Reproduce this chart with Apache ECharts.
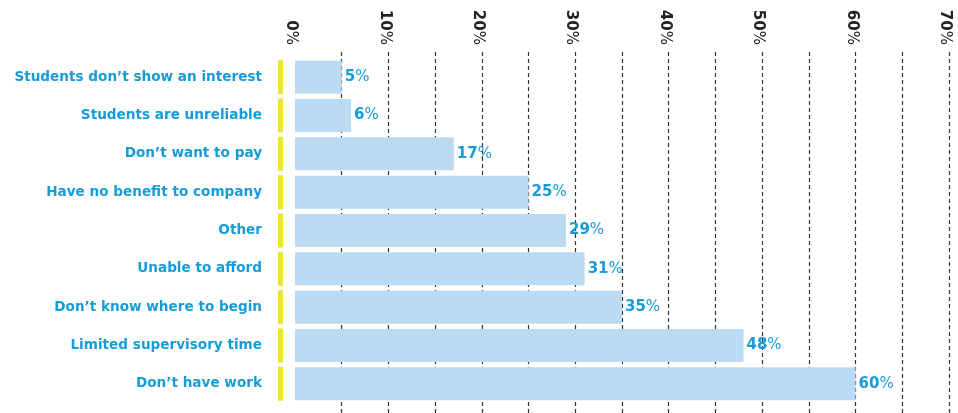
<!DOCTYPE html>
<html><head><meta charset="utf-8">
<script src="https://cdn.jsdelivr.net/npm/echarts@6/dist/echarts.min.js"></script>
<style>html,body{margin:0;padding:0;background:#fff}#c{width:958px;height:413px}</style>
</head><body><div id="c"></div>
<script>
const categories = [
  "Students don\u2019t show an interest",
  "Students are unreliable",
  "Don\u2019t want to pay",
  "Have no benefit to company",
  "Other",
  "Unable to afford",
  "Don\u2019t know where to begin",
  "Limited supervisory time",
  "Don\u2019t have work"
];
const values = [5, 6, 17, 25, 29, 31, 35, 48, 60];
const tickValues = [0, 10, 20, 30, 40, 50, 60, 70];

const FONT = '"DejaVu Sans", sans-serif';
const BLUE = '#169cd8';
const chart = echarts.init(document.getElementById('c'), null, {renderer: 'canvas'});
chart.setOption({
  animation: false,
  grid: [
    {left: 295, right: 9, top: 58, bottom: 10},
    {left: 341.7, right: 9, top: 52, bottom: 0}
  ],
  xAxis: [
    {gridIndex: 0, type: 'value', position: 'top', min: tickValues[0], max: tickValues[tickValues.length-1], interval: 10,
     axisLine: {show: false}, axisTick: {show: false}, splitLine: {show: false},
     axisLabel: {rotate: 90, margin: 13, padding: [8, 0, 0, 0], formatter: v => '{n|' + v + '}{p|%}',
       rich: {n: {fontFamily: FONT, fontWeight: 'bold', fontSize: 15, color: '#222'},
              p: {fontFamily: FONT, fontSize: 15, color: '#222'}}}},
    {gridIndex: 1, type: 'value', position: 'top', min: 5, max: 70, interval: 5,
     axisLine: {show: false}, axisTick: {show: false}, axisLabel: {show: false},
     splitLine: {show: true, lineStyle: {color: '#333', width: 1.2, type: [4, 3]}}}
  ],
  yAxis: [
    {gridIndex: 0, type: 'category', data: categories, inverse: true,
     axisLine: {show: false}, axisTick: {show: false},
     axisLabel: {margin: 12, formatter: v => '{a|' + v + '}{b|}',
       rich: {a: {fontFamily: FONT, fontWeight: 'bold', fontSize: 13.6, color: BLUE, padding: [0, 16, 0, 0]},
              b: {width: 5, height: 34, backgroundColor: '#ebe62e'}}}},
    {gridIndex: 1, type: 'value', show: false, min: 0, max: 1}
  ],
  series: [{
    type: 'bar', xAxisIndex: 0, yAxisIndex: 0, data: values, barWidth: 33,
    itemStyle: {color: '#badbf3'},
    label: {show: true, position: 'right', distance: 3, formatter: p => '{n|' + p.value + '}{p|%}',
      rich: {n: {fontFamily: FONT, fontWeight: 'bold', fontSize: 15, color: BLUE},
             p: {fontFamily: FONT, fontSize: 15, color: BLUE}}}
  }]
});
</script></body></html>
